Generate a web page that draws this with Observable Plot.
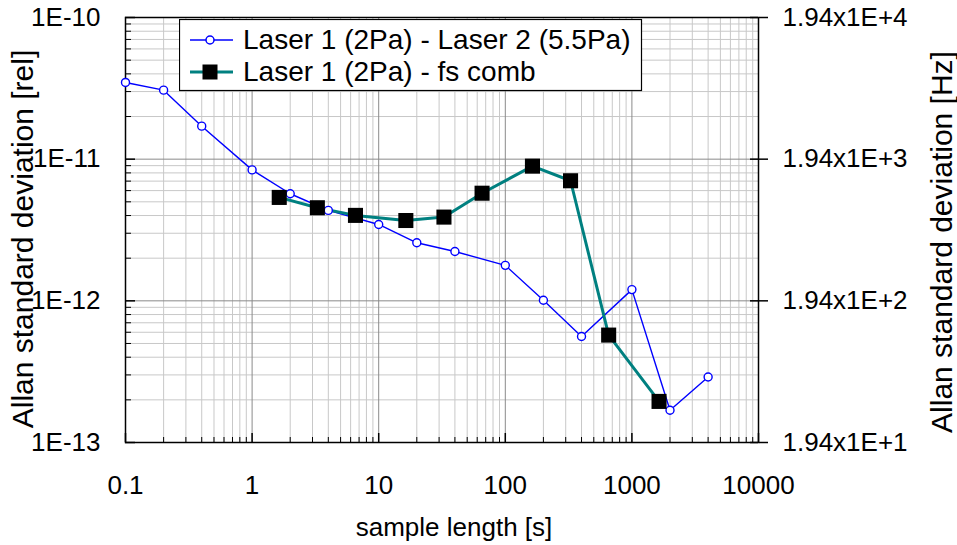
<!DOCTYPE html>
<html><head><meta charset="utf-8">
<script src="https://cdn.jsdelivr.net/npm/d3@7"></script>
<script src="https://cdn.jsdelivr.net/npm/@observablehq/plot@0.6"></script>
<style>
body{margin:0;background:#fff;font-family:"Liberation Sans",Arial,sans-serif;}
#wrap{position:relative;width:957px;height:545px;overflow:hidden;}
#legend{position:absolute;left:179px;top:19px;}
</style></head>
<body><div id="wrap"></div>
<script>
const xTicks=[0.1,1,10,100,1000,10000];
const xTickLabels=["0.1","1","10","100","1000","10000"];
const yTicks=[1e-13,1e-12,1e-11,1e-10];
const yLeftLabels=["1E-13","1E-12","1E-11","1E-10"];
const yRightLabels=["1.94x1E+1","1.94x1E+2","1.94x1E+3","1.94x1E+4"];
const xTitle="sample length [s]";
const yLeftTitle="Allan standard deviation [rel]";
const yRightTitle="Allan standard deviation [Hz]";
const seriesNames=["Laser 1 (2Pa) - Laser 2 (5.5Pa)","Laser 1 (2Pa) - fs comb"];
const laserTau=[0.1,0.2,0.4,1,2,4,10,20,40,100,200,400,1000,2000,4000];
const laserAdev=[3.48e-11,3.07e-11,1.71e-11,8.4e-12,5.7e-12,4.35e-12,3.46e-12,2.57e-12,2.23e-12,1.78e-12,1.01e-12,5.6e-13,1.2e-12,1.69e-13,2.9e-13];
const combTau=[1.6384,3.2768,6.5536,16.384,32.768,65.536,163.84,327.68,655.36,1638.4];
const combAdev=[5.37e-12,4.54e-12,4.01e-12,3.69e-12,3.9e-12,5.75e-12,8.93e-12,7.04e-12,5.73e-13,1.95e-13];

const laser=laserTau.map((t,i)=>({t,a:laserAdev[i]}));
const comb=combTau.map((t,i)=>({t,a:combAdev[i]}));
const xMinor=d3.range(-1,4).flatMap(e=>d3.range(2,10).map(k=>k*Math.pow(10,e)));
const yMinor=d3.range(-13,-10).flatMap(e=>d3.range(2,10).map(k=>k*Math.pow(10,e)));

const W=957,H=545,mL=125,mR=199,mT=17,mB=103;
const pw=W-mL-mR, ph=H-mT-mB;
const BLUE="#0000ff", TEAL="#008080";

const chart=Plot.plot({
  width:W,height:H,marginLeft:mL,marginRight:mR,marginTop:mT,marginBottom:mB,
  style:{fontFamily:"'Liberation Sans',Arial,sans-serif",background:"#fff",color:"#000"},
  x:{type:"log",domain:[0.1,10000],axis:null,label:null},
  y:{type:"log",domain:[1e-13,1e-10],axis:null,label:null},
  marks:[
    Plot.ruleX(xMinor,{stroke:"#c8c8c8",strokeWidth:1}),
    Plot.ruleY(yMinor,{stroke:"#c8c8c8",strokeWidth:1}),
    Plot.ruleX(xTicks,{stroke:"#8a8a8a",strokeWidth:1}),
    Plot.ruleY(yTicks,{stroke:"#8a8a8a",strokeWidth:1}),
    Plot.ruleX(xMinor,{stroke:"#000",strokeWidth:1,insetTop:ph-5}),
    Plot.ruleX(xTicks,{stroke:"#000",strokeWidth:1.5,insetTop:ph-9}),
    Plot.ruleY(yMinor,{stroke:"#000",strokeWidth:1,insetRight:pw-6}),
    Plot.ruleY(yTicks,{stroke:"#000",strokeWidth:1.5,insetRight:pw-10}),
    Plot.ruleY(yTicks,{stroke:"#000",strokeWidth:1.5,insetLeft:pw-8}),
    Plot.frame({stroke:"#000",strokeWidth:1.5}),
    Plot.line(laser,{x:"t",y:"a",stroke:BLUE,strokeWidth:1.4}),
    Plot.line(comb,{x:"t",y:"a",stroke:TEAL,strokeWidth:3}),
    Plot.dot(laser,{x:"t",y:"a",r:4,stroke:BLUE,fill:"#fff",strokeWidth:1.4}),
    Plot.dot(comb,{x:"t",y:"a",symbol:"square",r:8.5,fill:"#000",stroke:"none"}),
    Plot.axisX(xTicks,{anchor:"bottom",label:null,tickSize:0,tickPadding:33,fontSize:26,tickFormat:d=>xTickLabels[xTicks.indexOf(d)]}),
    Plot.axisY(yTicks,{anchor:"left",label:null,tickSize:0,tickPadding:25,fontSize:26,tickFormat:d=>yLeftLabels[yTicks.indexOf(d)]}),
    Plot.axisY(yTicks,{anchor:"right",label:null,tickSize:9,tickPadding:15,fontSize:26,strokeWidth:1.5,tickFormat:d=>yRightLabels[yTicks.indexOf(d)]}),
    Plot.text([xTitle],{text:d=>d,frameAnchor:"bottom",textAnchor:"middle",dx:12,dy:85,fontSize:26,lineAnchor:"middle"}),
    Plot.text([yLeftTitle],{text:d=>d,frameAnchor:"left",textAnchor:"middle",rotate:-90,dx:-102,dy:9,fontSize:30,lineAnchor:"middle"}),
    Plot.text([yRightTitle],{text:d=>d,frameAnchor:"right",textAnchor:"middle",rotate:-90,dx:184,dy:12,fontSize:30,lineAnchor:"middle"})
  ]
});
const wrap=document.getElementById("wrap");
wrap.appendChild(chart);

// legend
const ns="http://www.w3.org/2000/svg";
const lg=document.createElementNS(ns,"svg");
lg.setAttribute("id","legend");lg.setAttribute("width",464);lg.setAttribute("height",73);
function el(tag,attrs,txt){const e=document.createElementNS(ns,tag);for(const k in attrs)e.setAttribute(k,attrs[k]);if(txt)e.textContent=txt;lg.appendChild(e);return e;}
el("rect",{x:0.5,y:0.5,width:462,height:71,fill:"#fff",stroke:"#000","stroke-width":1.2});
el("line",{x1:11,x2:54,y1:21,y2:21,stroke:BLUE,"stroke-width":1.5});
el("circle",{cx:31,cy:21,r:4,fill:"#fff",stroke:BLUE,"stroke-width":1.5});
el("text",{x:64,y:30,"font-size":28,"font-family":"'Liberation Sans',Arial,sans-serif",fill:"#000"},seriesNames[0]);
el("line",{x1:11,x2:54,y1:53,y2:53,stroke:TEAL,"stroke-width":3});
el("rect",{x:23.5,y:45.5,width:15,height:15,fill:"#000"});
el("text",{x:64,y:62,"font-size":28,"font-family":"'Liberation Sans',Arial,sans-serif",fill:"#000"},seriesNames[1]);
wrap.appendChild(lg);
</script></body></html>
